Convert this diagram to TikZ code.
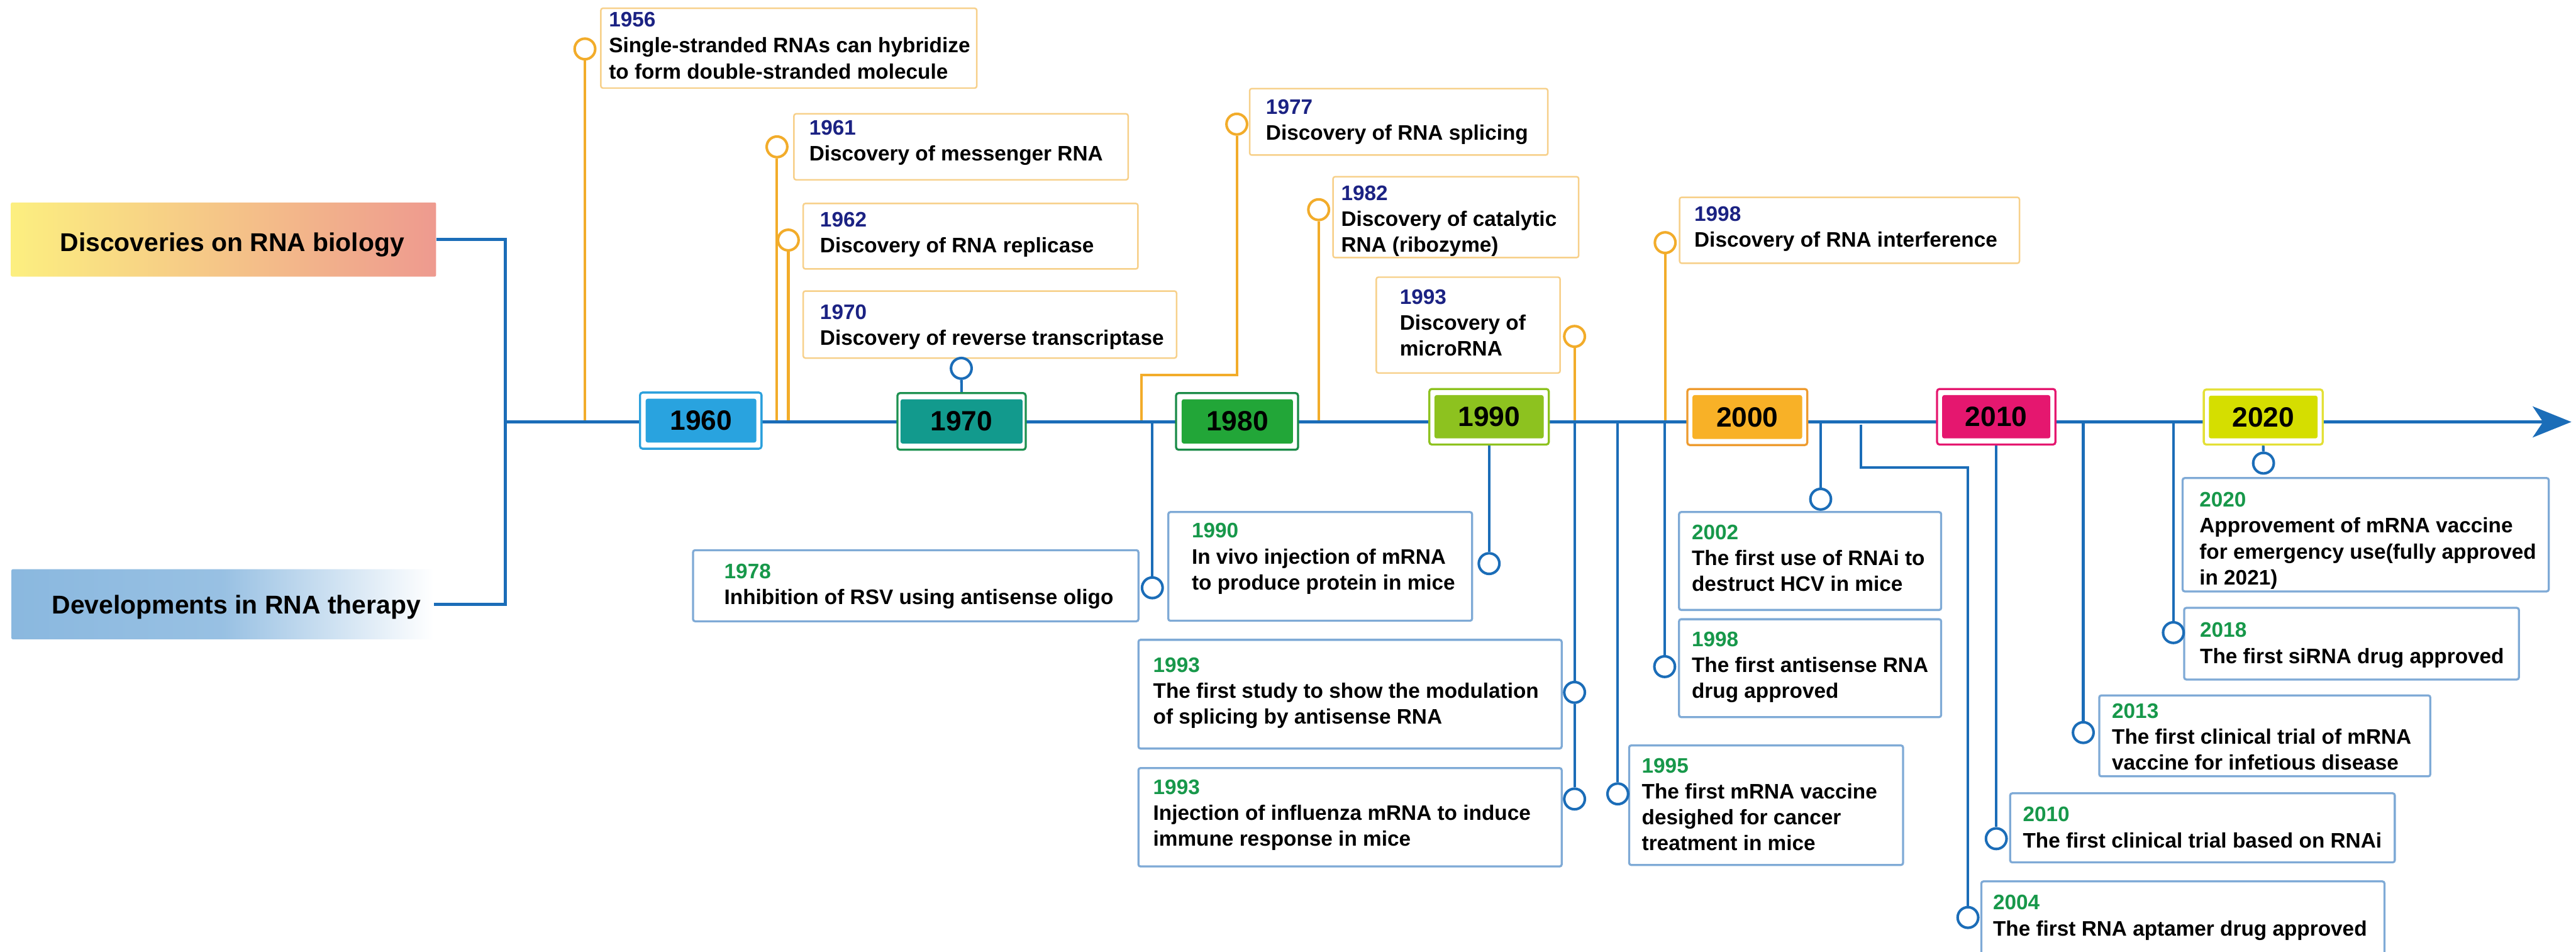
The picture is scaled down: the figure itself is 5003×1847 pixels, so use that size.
\documentclass[tikz,border=0pt]{standalone}
\usepackage{fontspec}
\setmainfont{Liberation Sans}
\usetikzlibrary{arrows.meta,backgrounds,fit}
\definecolor{axisblue}{HTML}{1B6DB8}
\definecolor{lineorange}{HTML}{F2AC2A}
\definecolor{boxorange}{HTML}{F7D08A}
\definecolor{boxblue}{HTML}{7FAAD6}
\definecolor{navy}{HTML}{1B2283}
\definecolor{yeargreen}{HTML}{17984A}
\definecolor{discL}{HTML}{FCEF80}
\definecolor{discR}{HTML}{EE9A8F}
\definecolor{devblue}{HTML}{8AB8DF}
\definecolor{f1960}{HTML}{29A3DF}\definecolor{d1960}{HTML}{2BA0DC}
\definecolor{f1970}{HTML}{129A8D}\definecolor{d1970}{HTML}{1D9150}
\definecolor{f1980}{HTML}{22A638}\definecolor{d1980}{HTML}{1A8B47}
\definecolor{f1990}{HTML}{8DC21F}\definecolor{d1990}{HTML}{8DC21F}
\definecolor{f2000}{HTML}{F8B127}\definecolor{d2000}{HTML}{EE9B2E}
\definecolor{f2010}{HTML}{E5176F}\definecolor{d2010}{HTML}{E5176F}
\definecolor{f2020}{HTML}{D5DE00}\definecolor{d2020}{HTML}{E3E035}
\pgfdeclarehorizontalshading{devshade}{100bp}{color(0bp)=(devblue); color(25bp)=(devblue); color(50bp)=(devblue!88!white); color(75bp)=(white); color(100bp)=(white)}
\begin{document}
\begin{tikzpicture}[x=0.01cm, y=-0.01cm,
  evt/.style={font=\fontsize{11.58}{14.3}\selectfont\bfseries, align=left, inner sep=0pt, anchor=north west},
  ytxt/.style={font=\fontsize{15.4}{18}\selectfont\bfseries, inner sep=0pt},
  titletxt/.style={font=\fontsize{14.2}{17}\selectfont\bfseries, inner sep=0pt},
  ubox/.style={draw=boxorange, line width=0.03cm, fill=white, rounded corners=0.04cm, inner sep=0pt},
  lbox/.style={draw=boxblue, line width=0.04cm, fill=white, rounded corners=0.04cm, inner sep=0pt},
  yout/.style={line width=0.04cm, fill=white, rounded corners=0.05cm, inner sep=0pt},
  yin/.style={rounded corners=0.04cm, inner sep=0pt},
  ocirc/.style={circle, draw=lineorange, line width=0.05cm, fill=white, minimum size=0.40cm, inner sep=0pt},
  bcirc/.style={circle, draw=axisblue, line width=0.05cm, fill=white, minimum size=0.40cm, inner sep=0pt},
  oline/.style={draw=lineorange, line width=0.05cm},
  bline/.style={draw=axisblue, line width=0.05cm},
  axisline/.style={draw=axisblue, line width=0.065cm}
]
\useasboundingbox (0,0) rectangle (5003,1847);

% ---- category boxes
\node[inner sep=0pt, fit={(21,393) (847,537)}, rounded corners=0.03cm, left color=discL, right color=discR] (disc) {};
\node[titletxt, anchor=base] (disct) at (451,488) {Discoveries on RNA biology};
\node[inner sep=0pt, fit={(22,1105) (842,1241)}, rounded corners=0.03cm, shading=devshade] (dev) {};
\node[titletxt, anchor=base] (devt) at (459,1191) {Developments in RNA therapy};

% ---- decade boxes
\node[yout, draw=d1960, fit={(1243,762) (1479,871)}] (y1960) {};
\node[yin, fill=f1960, fit={(1254,774) (1469,859)}] (y1960i) {};
\node[ytxt] (y1960t) at (y1960i) {1960};
\node[yout, draw=d1970, fit={(1743,763) (1992,873)}] (y1970) {};
\node[yin, fill=f1970, fit={(1749,775) (1986,861)}] (y1970i) {};
\node[ytxt] (y1970t) at (y1970i) {1970};
\node[yout, draw=d1980, fit={(2284,763) (2521,873)}] (y1980) {};
\node[yin, fill=f1980, fit={(2295,775) (2511,861)}] (y1980i) {};
\node[ytxt] (y1980t) at (y1980i) {1980};
\node[yout, draw=d1990, fit={(2776,755) (3008,863)}] (y1990) {};
\node[yin, fill=f1990, fit={(2786,767) (2998,851)}] (y1990i) {};
\node[ytxt] (y1990t) at (y1990i) {1990};
\node[yout, draw=d2000, fit={(3277,755) (3510,864)}] (y2000) {};
\node[yin, fill=f2000, fit={(3287,767) (3500,852)}] (y2000i) {};
\node[ytxt] (y2000t) at (y2000i) {2000};
\node[yout, draw=d2010, fit={(3762,755) (3992,863)}] (y2010) {};
\node[yin, fill=f2010, fit={(3772,767) (3982,851)}] (y2010i) {};
\node[ytxt] (y2010t) at (y2010i) {2010};
\node[yout, draw=d2020, fit={(4280,756) (4511,863)}] (y2020) {};
\node[yin, fill=f2020, fit={(4290,768) (4501,851)}] (y2020i) {};
\node[ytxt] (y2020t) at (y2020i) {2020};

% ---- discovery boxes (top)
\node[ubox, fit={(1167,16) (1897,171)}] (b1956) {};
\node[evt] (t1956) at (1182,23) {\textcolor{navy}{1956}\\Single-stranded RNAs can hybridize\\to form double-stranded molecule};
\node[ubox, fit={(1542,221) (2191,349)}] (b1961) {};
\node[evt] (t1961) at (1571,233) {\textcolor{navy}{1961}\\Discovery of messenger RNA};
\node[ubox, fit={(1560,395) (2210,522)}] (b1962) {};
\node[evt] (t1962) at (1592,411) {\textcolor{navy}{1962}\\Discovery of RNA replicase};
\node[ubox, fit={(1560,565) (2285,695)}] (b1970) {};
\node[evt] (t1970) at (1592,591) {\textcolor{navy}{1970}\\Discovery of reverse transcriptase};
\node[ubox, fit={(2427,172) (3006,301)}] (b1977) {};
\node[evt] (t1977) at (2458,192) {\textcolor{navy}{1977}\\Discovery of RNA splicing};
\node[ubox, fit={(2589,343) (3066,500)}] (b1982) {};
\node[evt] (t1982) at (2604,360) {\textcolor{navy}{1982}\\Discovery of catalytic\\RNA (ribozyme)};
\node[ubox, fit={(2673,538) (3030,724)}] (b1993d) {};
\node[evt] (t1993d) at (2718,561) {\textcolor{navy}{1993}\\Discovery of\\microRNA};
\node[ubox, fit={(3262,383) (3922,511)}] (b1998d) {};
\node[evt] (t1998d) at (3290,400) {\textcolor{navy}{1998}\\Discovery of RNA interference};

% ---- therapy boxes (bottom)
\node[lbox, fit={(1346,1068) (2211,1206)}] (b1978) {};
\node[evt] (t1978) at (1406,1094) {\textcolor{yeargreen}{1978}\\Inhibition of RSV using antisense oligo};
\node[lbox, fit={(2269,994) (2859,1205)}] (b1990) {};
\node[evt] (t1990) at (2314,1015) {\textcolor{yeargreen}{1990}\\In vivo injection of mRNA\\to produce protein in mice};
\node[lbox, fit={(2211,1242) (3033,1453)}] (b1993s) {};
\node[evt] (t1993s) at (2239,1276) {\textcolor{yeargreen}{1993}\\The first study to show the modulation\\of splicing by antisense RNA};
\node[lbox, fit={(2211,1491) (3033,1682)}] (b1993i) {};
\node[evt] (t1993i) at (2239,1513) {\textcolor{yeargreen}{1993}\\Injection of influenza mRNA to induce\\immune response in mice};
\node[lbox, fit={(3261,994) (3770,1184)}] (b2002) {};
\node[evt] (t2002) at (3285,1018) {\textcolor{yeargreen}{2002}\\The first use of RNAi to\\destruct HCV in mice};
\node[lbox, fit={(3261,1202) (3770,1392)}] (b1998t) {};
\node[evt] (t1998t) at (3285,1226) {\textcolor{yeargreen}{1998}\\The first antisense RNA\\drug approved};
\node[lbox, fit={(3164,1447) (3696,1679)}] (b1995) {};
\node[evt] (t1995) at (3188,1471) {\textcolor{yeargreen}{1995}\\The first mRNA vaccine\\desighed for cancer\\treatment in mice};
\node[lbox, fit={(3848,1711) (4631,1862)}] (b2004) {};
\node[evt] (t2004) at (3870,1737) {\textcolor{yeargreen}{2004}\\The first RNA aptamer drug approved};
\node[lbox, fit={(3904,1540) (4651,1674)}] (b2010) {};
\node[evt] (t2010) at (3928,1566) {\textcolor{yeargreen}{2010}\\The first clinical trial based on RNAi};
\node[lbox, fit={(4077,1350) (4720,1507)}] (b2013) {};
\node[evt] (t2013) at (4101,1365) {\textcolor{yeargreen}{2013}\\The first clinical trial of mRNA\\vaccine for infetious disease};
\node[lbox, fit={(4242,1180) (4892,1319)}] (b2018) {};
\node[evt] (t2018) at (4272,1208) {\textcolor{yeargreen}{2018}\\The first siRNA drug approved};
\node[lbox, fit={(4239,928) (4950,1148)}] (b2020) {};
\node[evt] (t2020) at (4271,955) {\textcolor{yeargreen}{2020}\\Approvement of mRNA vaccine\\for emergency use(fully approved\\in 2021)};

% ---- circles
\node[ocirc] (c1956) at (1136,95) {};
\node[ocirc] (c1961) at (1509,285) {};
\node[ocirc] (c1962) at (1531,466) {};
\node[ocirc] (c1977) at (2402,241) {};
\node[ocirc] (c1982) at (2561,407) {};
\node[ocirc] (c1993d) at (3058,653) {};
\node[ocirc] (c1998d) at (3234,471) {};
\node[bcirc] (c1970) at (1867,715) {};
\node[bcirc] (c1978) at (2238,1141) {};
\node[bcirc] (c1990) at (2892,1094) {};
\node[bcirc] (c1993s) at (3058,1344) {};
\node[bcirc] (c1993i) at (3058,1551) {};
\node[bcirc] (c1995) at (3142,1541) {};
\node[bcirc] (c1998t) at (3233,1294) {};
\node[bcirc] (c2002) at (3536,969) {};
\node[bcirc] (c2004) at (3822,1781) {};
\node[bcirc] (c2010) at (3877,1628) {};
\node[bcirc] (c2013) at (4046,1422) {};
\node[bcirc] (c2018) at (4221,1228) {};
\node[bcirc] (c2020) at (4396,899) {};

% ---- axis points
\coordinate (axL) at (981,819);
\coordinate (axR) at (4994,819);
\coordinate (a1956) at (1136,819);
\coordinate (a1961) at (1509,819);
\coordinate (a1962) at (1531,819);
\coordinate (a1977) at (2217,819);
\coordinate (e1977) at (2402,728);
\coordinate (a1982) at (2561,819);
\coordinate (a1993d) at (3058,819);
\coordinate (a1998d) at (3234,819);
\coordinate (a1978) at (2238,819);
\coordinate (a1993t) at (3058,819);
\coordinate (a1995) at (3142,819);
\coordinate (a1998t) at (3233,819);
\coordinate (a2002) at (3536,819);
\coordinate (a2004) at (3614,824);
\coordinate (e2004) at (3822,907);
\coordinate (a2013) at (4046,819);
\coordinate (a2018) at (4221,819);

\begin{scope}[on background layer]
  \fill[white] (0,0) rectangle (5003,1847);
  % discovery connectors
  \draw[oline] (a1956) -- (c1956);
  \draw[oline] (a1961) -- (c1961);
  \draw[oline] (a1962) -- (c1962);
  \draw[oline] (a1977) |- (e1977) -- (c1977);
  \draw[oline] (a1982) -- (c1982);
  \draw[oline] (a1993d) -- (c1993d);
  \draw[oline] (a1998d) -- (c1998d);
  % therapy connectors
  \draw[bline] (y1970.north) -- (c1970);
  \draw[bline] (a1978) -- (c1978);
  \draw[bline] (y1990.south) -- (c1990);
  \draw[bline] (a1993t) -- (c1993s) -- (c1993i);
  \draw[bline] (a1995) -- (c1995);
  \draw[bline] (a1998t) -- (c1998t);
  \draw[bline] (a2002) -- (c2002);
  \draw[bline] (a2004) |- (e2004) -- (c2004);
  \draw[bline] (y2010.south) -- (c2010);
  \draw[bline] (a2013) -- (c2013);
  \draw[bline] (a2018) -- (c2018);
  \draw[bline] (y2020.south) -- (c2020);
  % bracket and axis
  \draw[axisline] (disc.east) -| (axL) |- (dev.east);
  \draw[axisline, -{Stealth[length=0.75cm, width=0.6cm, inset=0.2cm]}] (axL) -- (axR);
\end{scope}
\end{tikzpicture}
\end{document}
